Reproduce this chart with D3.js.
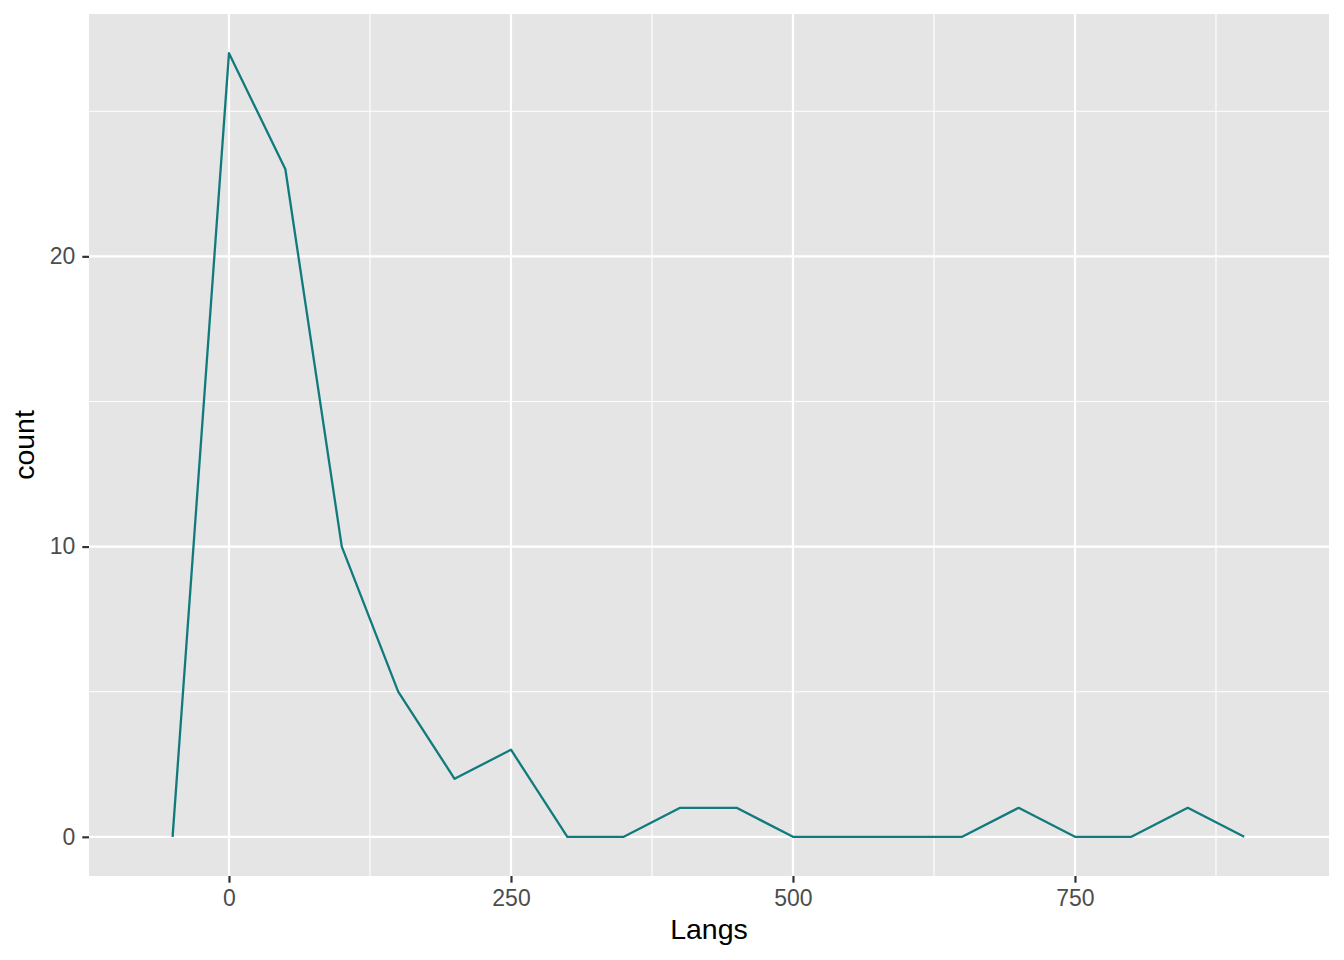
<!DOCTYPE html>
<html><head><meta charset="utf-8">
<script src="https://cdn.jsdelivr.net/npm/d3@7/dist/d3.min.js"></script>
<style>body{margin:0;background:#fff}</style>
</head><body>
<svg id="c" width="1344" height="960"></svg>
<script>
const binCenters = [-50,0,50,100,150,200,250,300,350,400,450,500,550,600,650,700,750,800,850,900];
const counts     = [0,27,23,10,5,2,3,0,0,1,1,0,0,0,0,1,0,0,1,0];
const xTicks = [0,250,500,750];
const xMinor = [-125,125,375,625,875];
const yTicks = [0,10,20];
const yMinor = [5,15,25];
const xLabel = "Langs", yLabel = "count";

const svg = d3.select("#c");
const L=89, R=1329, T=14, B=876;
const x = d3.scaleLinear().domain([-124.1,975.2]).range([L,R]);
const y = d3.scaleLinear().domain([-1.35,28.35]).range([B,T]);
const font = "Liberation Sans, Arial, sans-serif";

svg.append("rect").attr("x",L).attr("y",T).attr("width",R-L).attr("height",B-T).attr("fill","#E5E5E5");
const g = svg.append("g");
xMinor.filter(v=>x(v)>=L&&x(v)<=R).forEach(v=>g.append("line").attr("x1",x(v)).attr("x2",x(v)).attr("y1",T).attr("y2",B).attr("stroke","#fff").attr("stroke-width",1.1));
yMinor.forEach(v=>g.append("line").attr("x1",L).attr("x2",R).attr("y1",y(v)).attr("y2",y(v)).attr("stroke","#fff").attr("stroke-width",1.1));
xTicks.forEach(v=>g.append("line").attr("x1",x(v)).attr("x2",x(v)).attr("y1",T).attr("y2",B).attr("stroke","#fff").attr("stroke-width",2.2));
yTicks.forEach(v=>g.append("line").attr("x1",L).attr("x2",R).attr("y1",y(v)).attr("y2",y(v)).attr("stroke","#fff").attr("stroke-width",2.2));

const line = d3.line().x((d,i)=>x(binCenters[i])).y(d=>y(d));
svg.append("path").datum(counts).attr("d",line).attr("fill","none").attr("stroke","#117A7D").attr("stroke-width",2.3).attr("stroke-linejoin","round");

const xa = svg.append("g").attr("transform",`translate(0,${B})`)
  .call(d3.axisBottom(x).tickValues(xTicks).tickSize(6.7).tickPadding(6.5));
const ya = svg.append("g").attr("transform",`translate(${L},0)`)
  .call(d3.axisLeft(y).tickValues(yTicks).tickSize(6.7).tickPadding(7));
[xa,ya].forEach(a=>{
  a.select(".domain").remove();
  a.selectAll(".tick line").attr("stroke","#333").attr("stroke-width",2.2);
  a.selectAll(".tick text").attr("fill","#4D4D4D").style("font-size","23px").style("font-family",font);
});
svg.append("text").attr("x",(L+R)/2).attr("y",939).attr("text-anchor","middle")
  .style("font-size","28.5px").style("font-family",font).attr("fill","#000").text(xLabel);
svg.append("text").attr("transform",`translate(34,${(T+B)/2}) rotate(-90)`).attr("text-anchor","middle")
  .style("font-size","28.5px").style("font-family",font).attr("fill","#000").text(yLabel);
</script>
</body></html>
